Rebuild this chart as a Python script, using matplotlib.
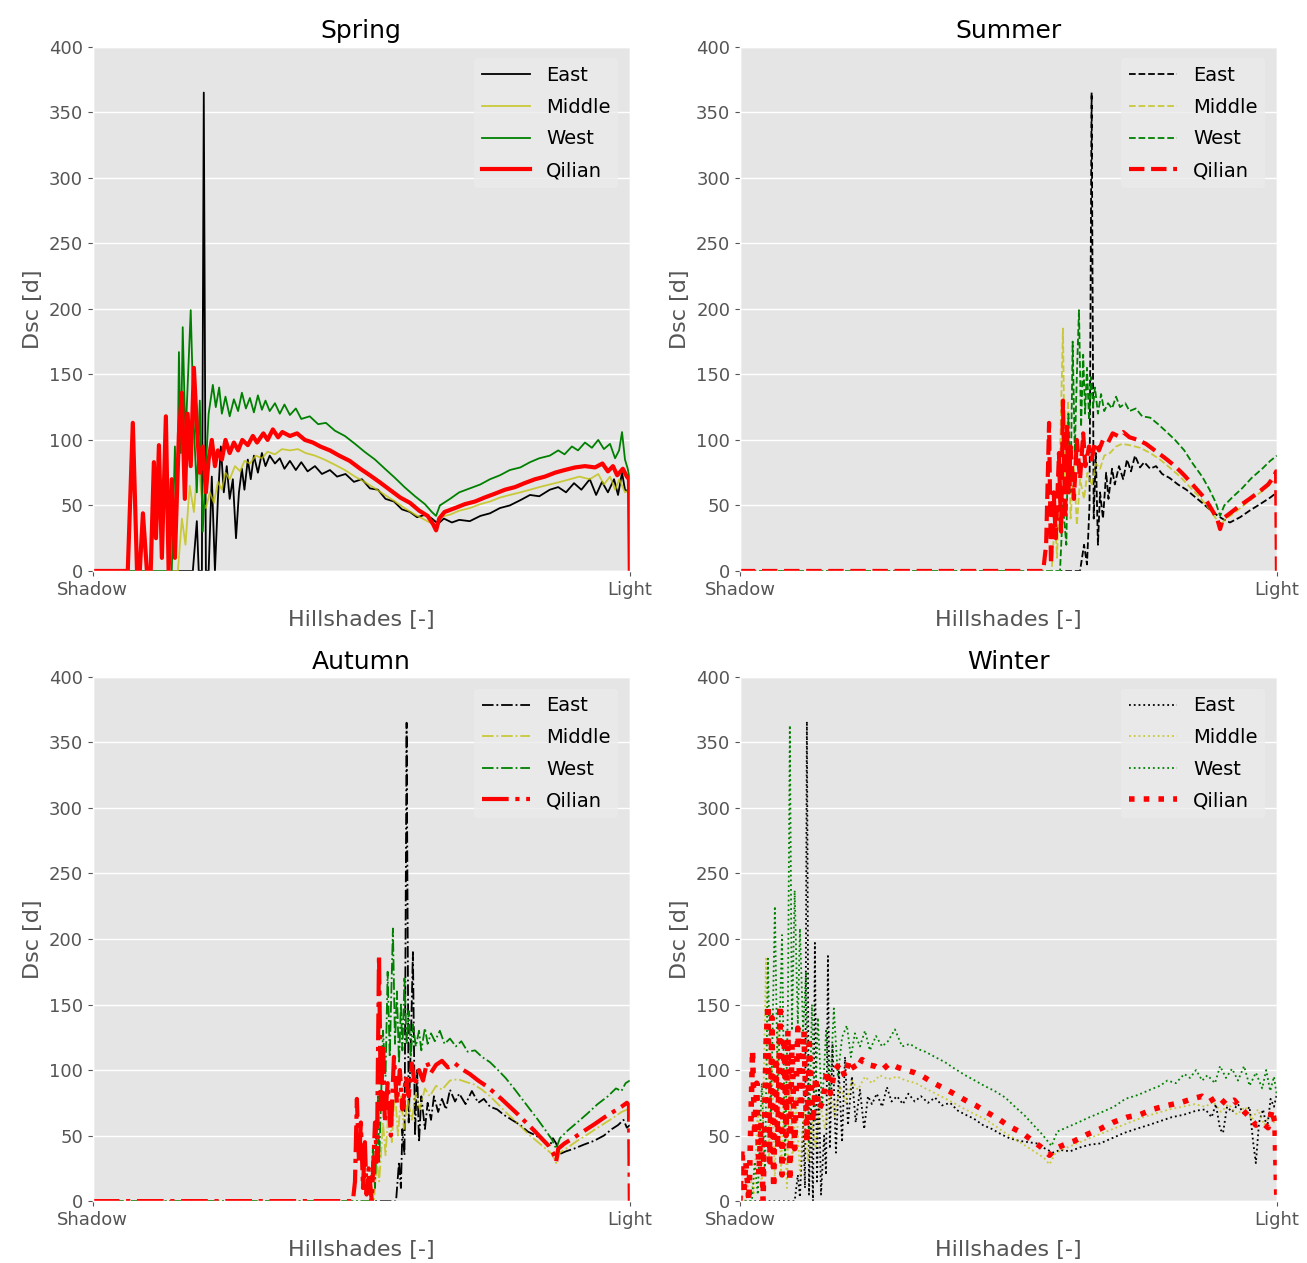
import matplotlib.pyplot as plt

plt.style.use('ggplot')

# Categorias e estilos
seasons = ['Spring', 'Summer', 'Autumn', 'Winter']
regions = ['East', 'Middle', 'West', 'Qilian']
line_styles = ['-', '--', '-.', ':']
region_colors = ['k', 'y', 'g', 'r']
xtick_labels = ['Shadow', 'Light']
yticks = [0, 50, 100, 150, 200, 250, 300, 350, 400]

# Dados: pares (hillshade, Dsc)
# --- Spring ---
spring_east = [(0, 0), (47.5, 0), (49.4, 38), (50.3, 0), (51.8, 0), (52.7, 365), (53.7, 0), (55, 0),
               (56.5, 72), (58, 0), (59.4, 55), (60.8, 95), (62.2, 60), (63.6, 80), (65, 55), (66.5, 70),
               (68, 25), (69.4, 60), (70.8, 78), (72, 62), (73.6, 85), (75, 70), (76.5, 88), (78.4, 75),
               (80.3, 90), (82, 80), (84, 88), (86.5, 82), (88.8, 86), (91, 78), (93.6, 84), (96.4, 77),
               (99, 83), (102, 76), (105.5, 80), (108.8, 74), (112.6, 77), (116, 72), (120, 74), (124, 68),
               (127.8, 70), (131.6, 63), (135.4, 62), (139, 55), (143, 53), (146.8, 47), (150.6, 45),
               (154, 41), (158, 43), (161, 40), (164, 36), (166.7, 40), (170.5, 37), (174, 39), (179, 38),
               (184, 42), (188.6, 44), (193.3, 48), (198, 50), (203, 54), (207.6, 58), (212, 57), (217, 62),
               (221, 64), (224.7, 60), (228.5, 67), (232, 62), (236, 70), (239, 58), (241.8, 68),
               (244.6, 60), (247.5, 70), (249.4, 58), (251.3, 75), (252.7, 62), (255, 60)]
spring_middle = [(0, 0), (40.4, 0), (42.3, 40), (44, 20), (46, 65), (48, 45), (50, 85), (51.8, 55),
                 (53.7, 48), (55.6, 60), (57.5, 52), (59.4, 68), (61.3, 62), (63, 75), (65, 70), (67.5, 80),
                 (70, 76), (72, 84), (74.6, 82), (77.4, 88), (80.3, 86), (83, 91), (86.5, 89), (89.8, 93),
                 (93.6, 92), (97.4, 93), (101, 90), (105.5, 88), (110, 85), (115, 81), (119.7, 77),
                 (124.5, 72), (129, 68), (134, 63), (138.7, 58), (143.5, 53), (148, 48), (153, 43),
                 (157.7, 39), (161, 36), (163, 33), (164.8, 41), (169.6, 43), (174, 46), (179, 48), (184, 51),
                 (188.6, 53), (193.3, 56), (198, 58), (203, 60), (207.6, 62), (212, 64), (217, 66), (222, 68),
                 (226.6, 70), (231, 72), (236, 70), (240, 74), (242.7, 66), (245.6, 72), (248, 62),
                 (250, 70), (252.7, 60), (255, 62)]
spring_west = [(0, 0), (37.5, 0), (39, 95), (40, 40), (40.9, 167), (41.8, 90), (42.7, 186), (44, 100),
               (45, 140), (46.5, 199), (48, 110), (49.4, 60), (50.8, 130), (52.2, 30), (53.7, 80), (55, 120),
               (57, 142), (58.4, 125), (60, 140), (61.3, 120), (63, 133), (65, 118), (67, 131), (69, 122),
               (70.8, 136), (72.7, 124), (74.6, 132), (76.5, 121), (78.4, 134), (80.3, 123), (82, 130),
               (84, 122), (86.5, 128), (88.8, 120), (91, 127), (93.6, 119), (96.4, 124), (99, 116),
               (103, 118), (107, 112), (110.7, 113), (115, 107), (119.7, 103), (124.5, 97), (129, 91),
               (134, 85), (138.7, 78), (143.5, 71), (148, 64), (153, 57), (157.7, 51), (161, 45), (163, 42),
               (164.8, 50), (169.6, 55), (174, 60), (179, 63), (184, 66), (188.6, 70), (193.3, 73), (198, 77),
               (203, 79), (207.6, 83), (212, 86), (217, 88), (221, 92), (224, 89), (227.5, 95), (230.4, 92),
               (233.7, 98), (237, 94), (240, 100), (242.7, 93), (245.6, 97), (248, 86), (249.9, 92),
               (251.3, 106), (252.7, 85), (254, 78), (255, 70)]
spring_qilian = [(0, 0), (16.6, 0), (19, 113), (21, 0), (22.3, 0), (23.8, 44), (25.7, 0), (27.5, 0),
                 (29, 83), (30, 25), (31.4, 96), (32.8, 10), (34.7, 118), (36, 0), (37.5, 70), (39, 10),
                 (40.9, 105), (42.3, 136), (43.7, 55), (45, 120), (46.5, 80), (48, 155), (49.4, 110),
                 (50.8, 75), (52.2, 95), (53.7, 60), (55, 85), (56.5, 100), (58, 80), (59.4, 92), (61.3, 85),
                 (63, 100), (65, 90), (67, 98), (69, 92), (71, 100), (73.6, 96), (76, 103), (78, 98), (81, 105),
                 (83, 100), (85.5, 108), (88, 102), (90, 106), (93.6, 103), (97, 105), (100.7, 100),
                 (104.5, 98), (108, 95), (112.6, 92), (117, 88), (122, 84), (127, 78), (131.6, 73), (136, 68),
                 (141, 62), (146, 56), (150.6, 52), (155, 46), (159, 42), (161.5, 36), (163, 31), (164.5, 40),
                 (167, 45), (172, 48), (176.7, 51), (181.5, 53), (186, 56), (191, 59), (195.7, 62),
                 (200.5, 64), (205, 67), (210, 70), (214.7, 72), (219.5, 75), (224, 77), (229, 79),
                 (233.7, 80), (238.5, 79), (242, 82), (244.6, 76), (247, 80), (249, 73), (251.7, 78),
                 (253.6, 72), (254.6, 70), (255, 0)]

# --- Summer ---
summer_east = [(0, 0), (161.5, 0), (163.4, 20), (164.8, 5), (166, 50), (167, 365), (168, 40), (169, 90),
               (170, 20), (171, 60), (172.4, 40), (173.9, 75), (175, 55), (176.7, 78), (178, 66), (180, 80),
               (182, 70), (183.8, 85), (185.7, 76), (187.6, 88), (190, 79), (192, 83), (194.8, 78),
               (197.6, 80), (200.5, 74), (204, 71), (208, 66), (212, 62), (215.7, 57), (219.5, 52), (223, 47),
               (227, 42), (230, 39), (232.7, 37), (237.5, 41), (242, 46), (247, 51), (251.8, 56), (255, 60)]
summer_middle = [(0, 0), (148, 0), (149.6, 40), (150.6, 10), (152, 90), (153.4, 185), (154.4, 60),
                 (155.8, 130), (157, 40), (158.6, 80), (160, 35), (161.5, 70), (163.4, 55), (165, 75),
                 (167, 65), (169, 82), (171, 78), (173, 88), (175.7, 90), (178.6, 95), (181.5, 97), (185, 96),
                 (190, 94), (194.8, 90), (199.5, 85), (204, 79), (209, 72), (213.7, 64), (218.5, 56), (223, 47),
                 (226, 40), (228, 33), (230, 39), (233.7, 43), (238.4, 49), (243, 55), (248, 61), (251.8, 66),
                 (255, 70)]
summer_west = [(0, 0), (152, 0), (153.4, 50), (155, 20), (156, 120), (157, 60), (158, 175), (159, 90),
               (160, 150), (161, 199), (162, 110), (163, 165), (163.9, 120), (164.8, 155), (165.8, 115),
               (166.7, 148), (167.7, 125), (168.6, 140), (170, 120), (171.5, 135), (173, 122), (174.8, 128),
               (176.7, 124), (178.6, 133), (180.5, 125), (183, 128), (185, 122), (188, 124), (191, 118),
               (194.8, 117), (198.6, 112), (202, 107), (206.6, 100), (211, 92), (215, 82), (219.5, 72),
               (223, 62), (226, 52), (228, 42), (230, 50), (233.7, 56), (238.4, 63), (243, 71), (248, 78),
               (251.8, 84), (255, 88)]
summer_qilian = [(0, 0), (144, 0), (145.4, 20), (146.8, 113), (147.7, 5), (149, 60), (150, 25),
                 (151.5, 90), (152.5, 30), (153.4, 130), (154.4, 40), (155.3, 110), (156, 60), (157, 95),
                 (158.6, 55), (160, 100), (161.5, 70), (163, 105), (164, 80), (165.8, 95), (167, 85),
                 (168.6, 98), (170.5, 92), (172.4, 100), (174.8, 98), (177, 105), (179.5, 103), (182, 106),
                 (185, 102), (189, 100), (192.8, 97), (197, 92), (202, 86), (206.6, 80), (211, 73), (216, 64),
                 (221, 55), (224, 47), (226.6, 40), (228, 32), (229.4, 40), (232.7, 44), (237.5, 50), (242, 55),
                 (247, 61), (250.8, 66), (253.6, 72), (254.6, 76), (255, 0)]

# --- Autumn ---
autumn_east = [(0, 0), (144, 0), (145.4, 30), (146.3, 10), (147, 55), (148, 35), (149, 365), (150, 60),
               (151, 120), (152, 190), (153, 50), (154, 100), (154.9, 45), (156, 80), (157.7, 55), (159, 75),
               (160.6, 62), (162, 80), (164, 68), (165.8, 78), (167.7, 70), (169.6, 85), (172, 76), (174, 82),
               (177, 74), (180, 84), (183, 75), (185.7, 78), (188.6, 72), (192, 70), (195, 66), (199, 62),
               (203, 58), (206.6, 53), (210.5, 50), (214, 46), (217, 42), (218.5, 48), (220, 44),
               (221.8, 36), (224.7, 38), (228.5, 40), (233, 43), (238, 46), (242.7, 50), (246.5, 55),
               (249.4, 58), (252, 62), (253.6, 56), (255, 58)]
autumn_middle = [(0, 0), (133.5, 0), (134.9, 30), (136, 15), (137.8, 60), (139, 35), (140.6, 75),
                 (142, 45), (143.5, 85), (144.9, 50), (146.3, 80), (147.7, 55), (149.6, 78), (151.5, 62),
                 (153.4, 82), (155.3, 70), (157.7, 86), (160, 80), (163, 88), (165.8, 85), (169.6, 92),
                 (173.4, 93), (177, 91), (181, 89), (184.8, 85), (188.6, 80), (192.4, 74), (196, 68),
                 (200, 62), (203.8, 56), (207.6, 50), (211.4, 45), (215, 40), (218, 36), (220, 29),
                 (221.8, 37), (225.6, 41), (230, 46), (235, 51), (239.7, 56), (244.6, 61), (248.4, 65),
                 (251, 68), (254, 70), (255, 66)]
autumn_west = [(0, 0), (131.6, 0), (133, 40), (134, 10), (135.4, 80), (136, 30), (137.8, 130), (139, 95),
               (140, 175), (141, 110), (142.5, 208), (143.5, 120), (144.4, 160), (145.4, 105), (146.3, 150),
               (147, 115), (148, 170), (149, 120), (150, 145), (151, 110), (152, 135), (153.4, 118),
               (154.9, 130), (156, 115), (157.7, 132), (159, 120), (160.6, 128), (162.4, 122), (164.8, 130),
               (167, 120), (169.6, 124), (172.4, 118), (175, 122), (178, 114), (181.5, 115), (184.8, 110),
               (188.6, 106), (192.4, 100), (196, 94), (200, 86), (203.8, 78), (207.6, 70), (211.4, 62),
               (215, 54), (218, 47), (220, 40), (221.8, 48), (225.6, 54), (230, 60), (235, 67),
               (239.7, 74), (244.6, 80), (248.4, 86), (251, 84), (253, 90), (255, 92)]
autumn_qilian = [(0, 0), (123.5, 0), (124.5, 15), (125.4, 78), (126.4, 30), (127.3, 60), (128.3, 10),
                 (129.2, 45), (130, 5), (131, 25), (132.5, 0), (134, 60), (134.9, 30), (135.9, 188),
                 (136.8, 70), (137.8, 120), (138.7, 60), (140, 90), (141.5, 50), (143, 110), (144.4, 75),
                 (145.8, 100), (147, 70), (148.7, 95), (150, 80), (151.5, 105), (153, 88), (154.9, 100),
                 (156.8, 92), (158.7, 106), (160.6, 98), (163, 104), (165.8, 107), (168.6, 102), (172, 105),
                 (175, 101), (179, 97), (183, 92), (186.7, 88), (190.5, 83), (194, 78), (198, 72), (202, 66),
                 (205.7, 60), (209.5, 54), (213, 48), (216.6, 42), (218.5, 37), (220, 30), (221, 40),
                 (224, 44), (229, 49), (233.7, 54), (238.5, 59), (243, 64), (248, 69), (251, 72),
                 (253.6, 75), (254.6, 73), (255, 0)]

# --- Winter ---
winter_east = [(0, 0), (26, 0), (27.5, 20), (28.5, 3), (30, 60), (30.9, 10), (31.8, 366), (32.8, 5),
               (33.7, 70), (34.7, 0), (35.6, 197), (36.6, 15), (37.5, 90), (38.5, 5), (40, 50), (40.9, 20),
               (41.8, 187), (42.7, 40), (44, 120), (45.6, 37), (47, 100), (48.5, 45), (49.9, 110),
               (51.3, 58), (53.2, 95), (55, 60), (57, 85), (59, 55), (60.8, 80), (62.7, 74), (65, 82),
               (67.5, 72), (69.8, 87), (72, 76), (74.6, 80), (77.4, 74), (80, 82), (83, 76), (86, 80),
               (89.3, 75), (92.6, 79), (96, 73), (99.8, 75), (103.5, 69), (107, 66), (111, 63), (115.4, 58),
               (119.7, 55), (124, 51), (128, 48), (132.5, 46), (136.8, 45), (141, 44), (145, 40),
               (148.7, 37), (152, 39), (156.8, 38), (161.5, 41), (166, 43), (171, 44), (176.7, 48),
               (182.4, 52), (188, 55), (194, 58), (199.5, 61), (205, 64), (211, 66), (216.6, 69), (221, 70),
               (224, 64), (226, 74), (228, 55), (229.4, 52), (231.3, 72), (233.7, 68), (236.5, 74),
               (239.4, 66), (242, 72), (243.7, 45), (245, 29), (246.5, 60), (248.4, 70), (250.3, 55),
               (252, 78), (253.6, 72), (255, 82)]
winter_middle = [(0, 0), (2.4, 0), (4.7, 20), (6.6, 5), (8.5, 70), (10.4, 10), (12.4, 185), (13.8, 30),
                 (15.2, 110), (16.6, 15), (18, 130), (19.5, 20), (21, 90), (22.3, 10), (23.7, 100), (25, 30),
                 (26.6, 80), (28.5, 20), (30.4, 70), (32.3, 30), (34.2, 60), (36, 40), (38, 75), (40.4, 55),
                 (42.7, 82), (45, 65), (47.5, 88), (50.3, 75), (53.2, 92), (56, 85), (59.4, 95), (62.7, 90),
                 (66.5, 96), (70.3, 93), (74.6, 95), (78.8, 92), (83.6, 90), (88, 86), (93, 82), (97.8, 78),
                 (102.6, 74), (107, 70), (112, 66), (117, 62), (121.6, 57), (126, 52), (131, 47),
                 (135.8, 42), (140.6, 37), (144.4, 33), (147, 28), (149.6, 36), (154, 40), (160, 44),
                 (166, 48), (172.4, 52), (178.6, 56), (185, 60), (191.4, 64), (197.6, 67), (204, 70),
                 (210, 72), (216, 74), (221, 72), (224.7, 76), (228.5, 68), (232, 74), (236, 66), (240, 72),
                 (243, 62), (246, 70), (249, 58), (251.8, 66), (253.6, 60), (255, 64)]
winter_west = [(0, 0), (5.7, 0), (7, 30), (8.5, 5), (10.4, 90), (11.9, 20), (13.3, 185), (14.7, 60),
               (16.6, 225), (18, 80), (20, 203), (21.4, 30), (22.8, 150), (23.7, 363), (24.7, 130),
               (26, 237), (27.5, 135), (28.5, 208), (30, 130), (31.4, 175), (32.8, 45), (34.2, 150),
               (35.6, 60), (37, 140), (39, 70), (40.9, 130), (42.7, 80), (44.6, 147), (46.5, 95),
               (48.5, 125), (50.8, 134), (52.7, 110), (54.6, 128), (57, 118), (59.4, 130), (61.7, 115),
               (64.6, 126), (67.5, 118), (70.3, 122), (73.6, 131), (77, 118), (80.7, 120), (84.5, 116),
               (88, 114), (92.6, 110), (97.4, 106), (102, 101), (107, 96), (111.6, 92), (116, 88), (121, 84),
               (126, 79), (130.6, 72), (135.4, 65), (140, 57), (143.5, 51), (146, 46), (148, 42),
               (150.6, 53), (154.9, 56), (160.6, 60), (166, 64), (172, 68), (177.6, 72), (183, 78),
               (189, 81), (194.8, 85), (199.5, 88), (203, 92), (207, 90), (211, 97), (213.7, 94),
               (216.6, 100), (219.5, 92), (222, 96), (225.6, 90), (228, 103), (230.8, 94), (233.7, 101),
               (236.5, 92), (239.4, 103), (242, 88), (245, 98), (248, 86), (249.9, 100), (251.8, 84),
               (253.6, 95), (255, 80)]
winter_qilian = [(0, 0), (1, 40), (1.9, 5), (2.8, 30), (4.3, 0), (6, 115), (7, 50), (8, 90), (9, 20),
                 (10, 60), (11, 0), (12.4, 120), (13.3, 150), (14.2, 30), (15.2, 140), (16, 10), (17, 110),
                 (18, 40), (19, 150), (20, 20), (21, 125), (21.9, 50), (22.8, 130), (23.7, 15), (24.7, 120),
                 (26, 40), (27.5, 132), (29, 60), (30.4, 130), (31.8, 45), (33, 120), (34.7, 60), (36, 95),
                 (37.5, 70), (39.4, 76), (41.3, 100), (43, 82), (45, 100), (47.5, 105), (49.9, 95), (52, 108),
                 (55, 100), (58, 108), (60.8, 104), (64, 103), (67.5, 100), (71, 105), (75, 102),
                 (78.8, 100), (83, 98), (87, 95), (92, 90), (97, 86), (101.6, 82), (107, 77), (112, 73),
                 (117, 68), (122.5, 63), (128, 57), (134, 52), (139, 46), (144, 40), (147, 35),
                 (149.6, 40), (154, 43), (159, 46), (165, 51), (171, 55), (177, 60), (183.8, 64), (190, 66),
                 (196, 70), (202.8, 73), (209, 75), (214.7, 78), (219.5, 80), (223, 76), (227, 80),
                 (230.8, 74), (234.7, 77), (238.5, 70), (242, 64), (245, 58), (248, 60), (250.8, 56),
                 (252.7, 70), (254, 60), (255, 0)]

season_data = {
    'Spring': [spring_east, spring_middle, spring_west, spring_qilian],
    'Summer': [summer_east, summer_middle, summer_west, summer_qilian],
    'Autumn': [autumn_east, autumn_middle, autumn_west, autumn_qilian],
    'Winter': [winter_east, winter_middle, winter_west, winter_qilian],
}

fig, axs = plt.subplots(2, 2, figsize=(13.07, 12.63), dpi=100)
fig.subplots_adjust(left=0.071, right=0.977, bottom=0.049, top=0.963, wspace=0.205, hspace=0.202)

for ax, season, ls in zip(axs.flat, seasons, line_styles):
    for series, name, col in zip(season_data[season], regions, region_colors):
        xs = [p[0] for p in series]
        ys = [p[1] for p in series]
        if name == 'Qilian':
            lw = 4 if ls == ':' else 3
            ax.plot(xs, ys, linestyle=ls, color=col, linewidth=lw, label=name)
        elif name == 'Middle':
            ax.plot(xs, ys, linestyle=ls, color=col, linewidth=1.3, alpha=0.75, label=name)
        else:
            ax.plot(xs, ys, linestyle=ls, color=col, linewidth=1.3, label=name)

    ax.set_title(season, fontsize=18, color='black')
    ax.set_xlim(0, 255)
    ax.set_ylim(0, 400)
    ax.set_xticks([0, 255])
    ax.set_xticklabels(xtick_labels)
    ax.set_yticks(yticks)
    ax.tick_params(labelsize=13, colors='#555555')
    ax.set_xlabel('Hillshades [-]', fontsize=16, color='#555555', labelpad=8)
    ax.set_ylabel('Dsc [d]', fontsize=16, color='#555555')
    ax.grid(True, color='white', linewidth=1)
    ax.legend(loc='upper right', fontsize=14, facecolor='#EBEBEB', edgecolor='none',
              handlelength=2.5, labelspacing=0.65, borderaxespad=0.6)

fig.savefig('out.png', dpi=100)
